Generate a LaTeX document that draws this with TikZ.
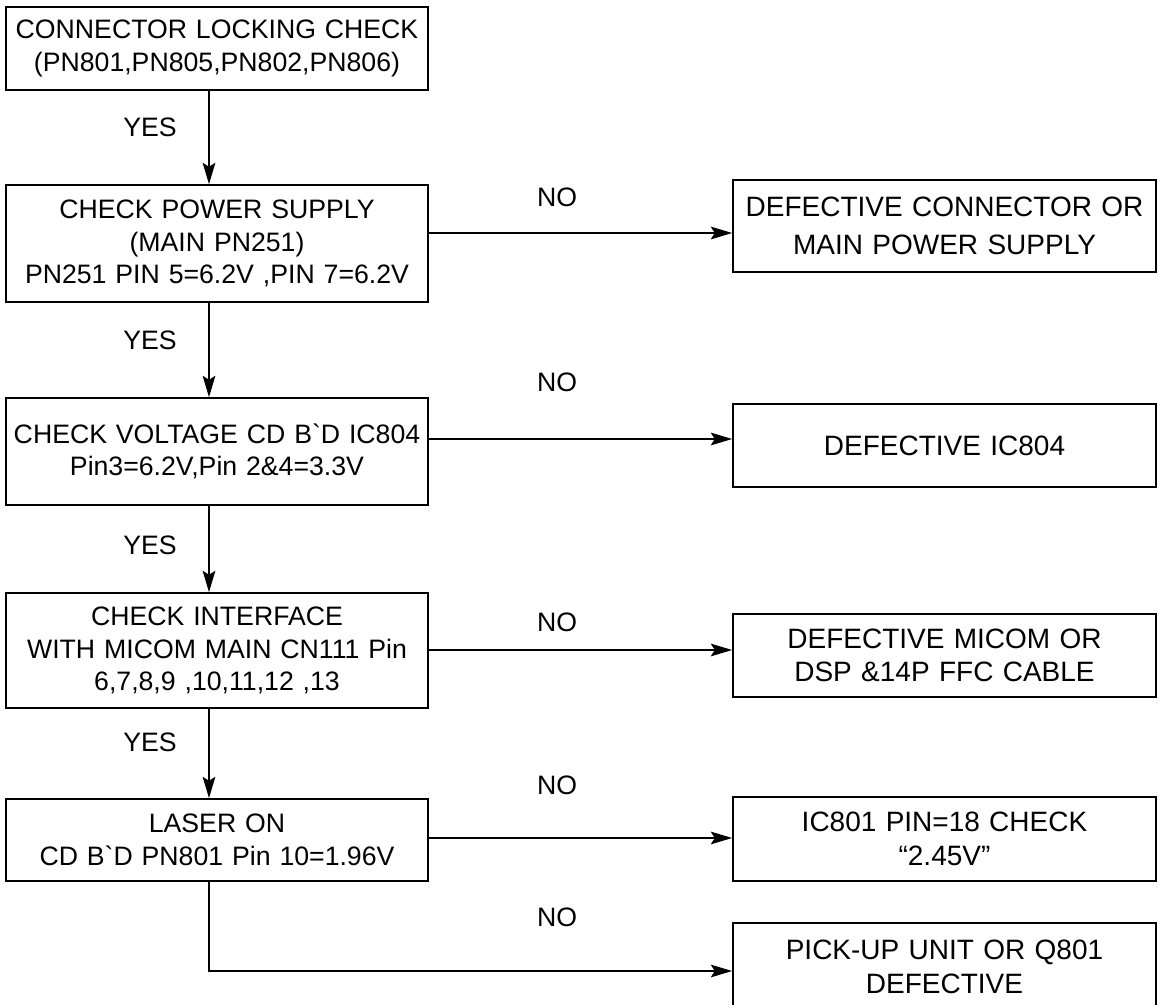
\documentclass[tikz,border=0pt]{standalone}
\usepackage{fontspec}
\setmainfont{Liberation Sans}
\usetikzlibrary{arrows.meta}
\tikzset{
    checkbox/.style={draw, line width=1.3pt, inner sep=0pt, align=center,
        text width=312pt, minimum width=316.5pt},
    resultbox/.style={checkbox, minimum width=317.25pt, font=\fontsize{21pt}{25pt}\selectfont},
    flow/.style={line width=1.2pt, -{Stealth[length=16pt, width=9.5pt, inset=3pt]}},
    answer/.style={inner sep=0pt},
}

\begin{document}
\begin{tikzpicture}[x=0.75pt, y=-0.75pt, font=\fontsize{20pt}{24.4pt}\selectfont]
    \useasboundingbox (0,0) rectangle (1160,1005);

    % checks on the left
    \node[checkbox, minimum height=62.25pt] (lock) at (217,48.5) {CONNECTOR LOCKING CHECK\\(PN801,PN805,PN802,PN806)};
    \node[checkbox, minimum height=87.75pt] (power) at (217,243.5) {CHECK POWER SUPPLY\\(MAIN PN251)\\PN251 PIN 5=6.2V ,PIN 7=6.2V};
    \node[checkbox, minimum height=80.25pt] (voltage) at (217,451.5) {CHECK VOLTAGE CD B\textasciigrave D IC804\\Pin3=6.2V,Pin 2\&4=3.3V\\[6pt]};
    \node[checkbox, minimum height=86.25pt] (interface) at (217,650.5) {CHECK INTERFACE\\WITH MICOM MAIN CN111 Pin\\6,7,8,9 ,10,11,12 ,13};
    \node[checkbox, minimum height=61.5pt] (laser) at (217,840) {LASER ON\\CD B\textasciigrave D PN801 Pin 10=1.96V};

    % results on the right
    \node[resultbox, minimum height=69pt] (connector) at (944.5,226) {DEFECTIVE CONNECTOR OR\\[4pt]MAIN POWER SUPPLY};
    \node[resultbox, minimum height=62.25pt] (ic804) at (944.5,445.5) {DEFECTIVE IC804};
    \node[resultbox, minimum height=62.25pt] (micom) at (944.5,655.5) {DEFECTIVE MICOM OR\\DSP \&14P FFC CABLE};
    \node[resultbox, minimum height=63pt] (ic801) at (944.5,839) {IC801 PIN=18 CHECK\\``2.45V''};
    \node[resultbox, minimum height=66pt] (pickup) at (944.5,967) {PICK-UP UNIT OR Q801\\DEFECTIVE};

    % yes branches
    \draw[flow] (lock.south -| 209,0) -- (power.north -| 209,0);
    \draw[flow] (power.south -| 209,0) -- (voltage.north -| 209,0);
    \draw[flow] (voltage.south -| 209,0) -- (interface.north -| 209,0);
    \draw[flow] (interface.south -| 209,0) -- (laser.north -| 209,0);
    \node[answer] (yes1) at (150,127) {YES};
    \node[answer] (yes2) at (150,340) {YES};
    \node[answer] (yes3) at (150,545) {YES};
    \node[answer] (yes4) at (150,742) {YES};

    % no branches
    \draw[flow] (power.east |- 0,233) -- (connector.west |- 0,233);
    \draw[flow] (voltage.east |- 0,439) -- (ic804.west |- 0,439);
    \draw[flow] (interface.east |- 0,650) -- (micom.west |- 0,650);
    \draw[flow] (laser.east |- 0,838) -- (ic801.west |- 0,838);
    \draw[flow] (laser.south -| 209,0) |- (pickup.west |- 0,971);
    \node[answer] (no1) at (557,197) {NO};
    \node[answer] (no2) at (557,382) {NO};
    \node[answer] (no3) at (557,622) {NO};
    \node[answer] (no4) at (557,785) {NO};
    \node[answer] (no5) at (557,917) {NO};
\end{tikzpicture}
\end{document}
